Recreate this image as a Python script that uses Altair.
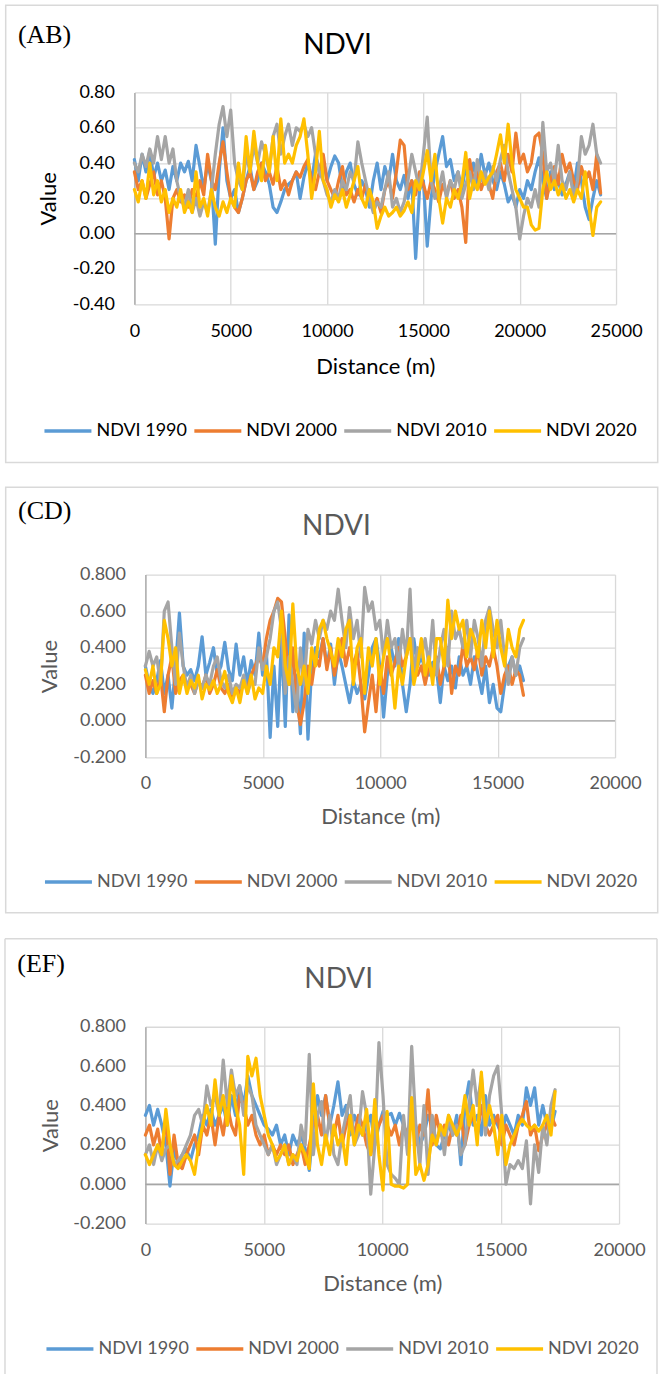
import altair as alt
import pandas as pd

SERIES = ["NDVI 1990", "NDVI 2000", "NDVI 2010", "NDVI 2020"]
COLORS = ["#5B9BD5", "#ED7D31", "#A5A5A5", "#FFC000"]

# ---------------- Panel (AB): sampled every 200 m ----------------
AB_STEP = 200
AB_1990 = [0.42, 0.30, 0.45, 0.35, 0.47, 0.32, 0.40, 0.30, 0.36, 0.25,
           0.38, 0.30, 0.40, 0.35, 0.41, 0.30, 0.50, 0.38, 0.25, 0.40,
           0.30, -0.06, 0.35, 0.60, 0.30, 0.20, 0.25, 0.12, 0.20, 0.30,
           0.38, 0.25, 0.30, 0.40, 0.35, 0.28, 0.15, 0.12, 0.18, 0.25,
           0.28, 0.30, 0.35, 0.20, 0.32, 0.40, 0.30, 0.45, 0.35, 0.42,
           0.30, 0.38, 0.44, 0.40, 0.25, 0.35, 0.40, 0.28, 0.22, 0.30,
           0.25, 0.15, 0.30, 0.40, 0.25, 0.38, 0.30, 0.45, 0.30, 0.25,
           0.33, 0.20, 0.30, -0.14, 0.25, 0.30, -0.07, 0.20, 0.35, 0.45,
           0.55, 0.38, 0.42, 0.30, 0.35, 0.25, 0.38, 0.30, 0.40, 0.28,
           0.45, 0.33, 0.40, 0.30, 0.25, 0.35, 0.28, 0.18, 0.22, 0.15,
           0.25, 0.20, 0.30, 0.25, 0.35, 0.43, 0.30, 0.20, 0.35, 0.25,
           0.30, 0.22, 0.28, 0.35, 0.25, 0.40, 0.30, 0.15, 0.08, 0.20,
           0.30, 0.22]
AB_2000 = [0.35, 0.25, 0.30, 0.20, 0.28, 0.35, 0.22, 0.30, 0.20, -0.03,
           0.20, 0.25, 0.18, 0.22, 0.15, 0.25, 0.20, 0.30, 0.22, 0.45,
           0.30, 0.25, 0.40, 0.52, 0.35, 0.20, 0.15, 0.12, 0.20, 0.30,
           0.35, 0.25, 0.35, 0.40, 0.30, 0.35, 0.28, 0.38, 0.25, 0.30,
           0.22, 0.30, 0.35, 0.32, 0.38, 0.42, 0.30, 0.25, 0.35, 0.45,
           0.30, 0.25, 0.20, 0.30, 0.38, 0.22, 0.25, 0.18, 0.25, 0.20,
           0.28, 0.20, 0.15, 0.20, 0.12, 0.25, 0.30, 0.20, 0.35, 0.53,
           0.50, 0.25, 0.30, 0.22, 0.35, 0.28, 0.20, 0.30, 0.25, 0.18,
           0.28, 0.22, 0.30, 0.20, 0.25, 0.15, -0.05, 0.42, 0.30, 0.35,
           0.25, 0.32, 0.28, 0.20, 0.35, 0.40, 0.30, 0.45, 0.35, 0.57,
           0.40, 0.45, 0.35, 0.40, 0.55, 0.57, 0.45, 0.20, 0.30, 0.38,
           0.28, 0.45, 0.35, 0.40, 0.30, 0.25, 0.38, 0.30, 0.35, 0.25,
           0.45, 0.23]
AB_2010 = [0.40, 0.35, 0.45, 0.38, 0.48, 0.40, 0.55, 0.42, 0.55, 0.40,
           0.48, 0.30, 0.20, 0.15, 0.25, 0.12, 0.20, 0.10, 0.18, 0.12,
           0.25, 0.45, 0.62, 0.72, 0.55, 0.70, 0.40, 0.30, 0.25, 0.45,
           0.35, 0.50, 0.40, 0.52, 0.45, 0.35, 0.55, 0.62, 0.45, 0.55,
           0.62, 0.50, 0.60, 0.58, 0.62, 0.55, 0.60, 0.45, 0.35, 0.30,
           0.22, 0.18, 0.25, 0.20, 0.30, 0.25, 0.35, 0.30, 0.52, 0.40,
           0.30, 0.20, 0.12, 0.18, 0.15, 0.25, 0.35, 0.15, 0.20, 0.12,
           0.18, 0.30, 0.45, 0.35, 0.25, 0.45, 0.66, 0.30, 0.20, 0.25,
           0.35, 0.20, 0.30, 0.25, 0.35, 0.20, 0.28, 0.35, 0.25, 0.42,
           0.30, 0.35, 0.25, 0.38, 0.30, 0.42, 0.50, 0.35, 0.25, 0.15,
           -0.03, 0.10, 0.20, 0.15, 0.25, 0.15, 0.63, 0.35, 0.40, 0.30,
           0.50, 0.30, 0.25, 0.35, 0.20, 0.30, 0.55, 0.45, 0.50, 0.62,
           0.45, 0.40]
AB_2020 = [0.25, 0.18, 0.30, 0.20, 0.40, 0.22, 0.30, 0.18, 0.25, 0.12,
           0.20, 0.15, 0.25, 0.12, 0.18, 0.12, 0.35, 0.15, 0.20, 0.10,
           0.25, 0.15, 0.10, 0.18, 0.12, 0.20, 0.15, 0.40, 0.25, 0.55,
           0.35, 0.58, 0.40, 0.30, 0.50, 0.35, 0.55, 0.30, 0.65, 0.40,
           0.45, 0.40, 0.50, 0.55, 0.65, 0.45, 0.20, 0.35, 0.58, 0.30,
           0.25, 0.15, 0.22, 0.18, 0.25, 0.15, 0.22, 0.30, 0.38, 0.20,
           0.15, 0.25, 0.18, 0.03, 0.10, 0.15, 0.10, 0.12, 0.15, 0.10,
           0.13, 0.18, 0.12, 0.30, 0.25, 0.35, 0.47, 0.30, 0.45, 0.20,
           0.06, 0.20, 0.15, 0.25, 0.20, 0.28, 0.46, 0.20, 0.30, 0.25,
           0.35, 0.28, 0.32, 0.35, 0.45, 0.56, 0.40, 0.62, 0.40, 0.25,
           0.20, 0.15, 0.15, 0.05, 0.02, 0.03, 0.25, 0.35, 0.25, 0.30,
           0.22, 0.28, 0.20, 0.25, 0.18, 0.25, 0.20, 0.35, 0.15, -0.01,
           0.15, 0.18]

# ---------------- Panel (CD): sampled every 161 m ----------------
CD_STEP = 161
CD_1990 = [0.30, 0.20, 0.15, 0.22, 0.33, 0.15, 0.25, 0.07, 0.30, 0.59,
           0.30, 0.25, 0.28, 0.22, 0.30, 0.46, 0.25, 0.32, 0.40, 0.25,
           0.30, 0.43, 0.28, 0.22, 0.42, 0.25, 0.35, 0.20, 0.33, 0.25,
           0.48, 0.25, 0.38, -0.09, 0.30, -0.03, 0.45, -0.03, 0.58, 0.05,
           0.25, -0.07, 0.48, -0.10, 0.30, 0.40, 0.35, 0.45, 0.30, 0.42,
           0.20, 0.38, 0.30, 0.20, 0.10, 0.22, 0.15, 0.20, 0.12, 0.25,
           0.40, 0.45, 0.30, 0.02, 0.25, 0.40, 0.30, 0.45, 0.20, 0.05,
           0.20, 0.45, 0.30, 0.35, 0.28, 0.25, 0.32, 0.28, 0.10, 0.30,
           0.22, 0.30, 0.18, 0.35, 0.25, 0.30, 0.20, 0.35, 0.25, 0.15,
           0.30, 0.10, 0.20, 0.07, 0.05, 0.20, 0.30, 0.35, 0.25, 0.30,
           0.22]
CD_2000 = [0.25, 0.15, 0.22, 0.15, 0.25, 0.05, 0.25, 0.35, 0.15, 0.22,
           0.25, 0.18, 0.20, 0.15, 0.22, 0.18, 0.25, 0.15, 0.20, 0.28,
           0.18, 0.15, 0.20, 0.12, 0.18, 0.15, 0.22, 0.18, 0.25, 0.30,
           0.35, 0.30, 0.45, 0.55, 0.60, 0.67, 0.65, 0.45, 0.20, 0.40,
           0.10, -0.02, 0.10, 0.30, 0.20, 0.35, 0.30, 0.45, 0.28, 0.40,
           0.25, 0.35, 0.45, 0.30, 0.40, 0.30, 0.38, 0.20, -0.06, 0.10,
           0.25, 0.05, 0.30, 0.15, 0.35, 0.25, 0.32, 0.40, 0.30, 0.35,
           0.45, 0.30, 0.25, 0.30, 0.20, 0.30, 0.25, 0.35, 0.20, 0.30,
           0.40, 0.15, 0.30, 0.25, 0.42, 0.30, 0.35, 0.28, 0.40, 0.25,
           0.35, 0.30, 0.40, 0.30, 0.15, 0.25, 0.30, 0.20, 0.28, 0.25,
           0.14]
CD_2010 = [0.30, 0.38, 0.30, 0.35, 0.20, 0.60, 0.65, 0.40, 0.20, 0.48,
           0.30, 0.18, 0.25, 0.15, 0.22, 0.18, 0.25, 0.20, 0.30, 0.35,
           0.22, 0.18, 0.25, 0.15, 0.20, 0.18, 0.25, 0.15, 0.22, 0.20,
           0.40, 0.28, 0.35, 0.45, 0.60, 0.65, 0.50, 0.15, 0.35, 0.20,
           0.05, 0.40, 0.20, 0.50, 0.42, 0.55, 0.45, 0.55, 0.50, 0.60,
           0.55, 0.72, 0.55, 0.40, 0.62, 0.45, 0.55, 0.35, 0.73, 0.60,
           0.65, 0.50, 0.55, 0.35, 0.55, 0.40, 0.45, 0.30, 0.50, 0.35,
           0.72, 0.25, 0.40, 0.35, 0.45, 0.30, 0.55, 0.25, 0.40, 0.50,
           0.30, 0.60, 0.45, 0.50, 0.40, 0.55, 0.35, 0.55, 0.45, 0.30,
           0.55, 0.62, 0.50, 0.40, 0.55, 0.35, 0.20, 0.35, 0.25, 0.40,
           0.45]
CD_2020 = [0.28, 0.20, 0.30, 0.15, 0.20, 0.55, 0.45, 0.30, 0.40, 0.15,
           0.25, 0.15, 0.22, 0.18, 0.25, 0.12, 0.20, 0.17, 0.22, 0.15,
           0.20, 0.27, 0.15, 0.10, 0.18, 0.10, 0.22, 0.15, 0.25, 0.12,
           0.18, 0.15, 0.30, 0.20, 0.40, 0.35, 0.60, 0.30, 0.20, 0.64,
           0.30, 0.20, 0.30, 0.15, 0.40, 0.30, 0.50, 0.55, 0.45, 0.38,
           0.30, 0.45, 0.35, 0.50, 0.55, 0.20, 0.40, 0.45, 0.15, 0.40,
           0.30, 0.45, 0.20, 0.35, 0.45, 0.30, 0.07, 0.30, 0.20, 0.35,
           0.45, 0.20, 0.30, 0.45, 0.25, 0.35, 0.20, 0.45, 0.45, 0.30,
           0.66, 0.45, 0.60, 0.50, 0.55, 0.35, 0.50, 0.45, 0.35, 0.55,
           0.40, 0.60, 0.35, 0.55, 0.40, 0.30, 0.50, 0.40, 0.35, 0.50,
           0.55]

# ---------------- Panel (EF): sampled every 173 m ----------------
EF_STEP = 173
EF_1990 = [0.35, 0.40, 0.30, 0.38, 0.30, 0.20, -0.01, 0.18, 0.10, 0.15,
           0.18, 0.12, 0.20, 0.25, 0.35, 0.30, 0.38, 0.30, 0.35, 0.40,
           0.30, 0.45, 0.35, 0.50, 0.40, 0.55, 0.45, 0.40, 0.35, 0.30,
           0.28, 0.25, 0.30, 0.20, 0.25, 0.15, 0.25, 0.20, 0.25, 0.18,
           0.07, 0.30, 0.45, 0.35, 0.45, 0.30, 0.40, 0.52, 0.35, 0.40,
           0.25, 0.35, 0.30, 0.25, 0.30, 0.35, 0.20, 0.30, 0.37, 0.35,
           0.36, 0.30, 0.36, 0.30, 0.25, 0.35, 0.30, 0.20, 0.25, 0.35,
           0.30, 0.20, 0.18, 0.25, 0.30, 0.25, 0.35, 0.10, 0.40, 0.52,
           0.30, 0.35, 0.25, 0.45, 0.30, 0.35, 0.30, 0.25, 0.35, 0.30,
           0.25, 0.35, 0.30, 0.49, 0.40, 0.49, 0.30, 0.40, 0.30, 0.28,
           0.37]
EF_2000 = [0.25, 0.30, 0.20, 0.28, 0.15, 0.35, 0.05, 0.25, 0.10, 0.08,
           0.15, 0.20, 0.25, 0.15, 0.30, 0.25, 0.35, 0.20, 0.35, 0.25,
           0.40, 0.30, 0.25, 0.45, 0.40, 0.30, 0.35, 0.25, 0.20, 0.25,
           0.15, 0.20, 0.15, 0.20, 0.15, 0.20, 0.10, 0.15, 0.20, 0.10,
           0.20, 0.30, 0.35, 0.25, 0.45, 0.30, 0.25, 0.35, 0.20, 0.30,
           0.35, 0.25, 0.35, 0.30, 0.20, 0.15, 0.25, 0.30, 0.35, 0.30,
           0.25, 0.30, 0.20, 0.30, 0.25, 0.35, 0.20, 0.30, 0.25, 0.48,
           0.20, 0.35, 0.25, 0.30, 0.20, 0.30, 0.25, 0.35, 0.20, 0.30,
           0.35, 0.25, 0.40, 0.30, 0.25, 0.30, 0.35, 0.20, 0.30, 0.25,
           0.20, 0.30, 0.35, 0.42, 0.25, 0.30, 0.17, 0.25, 0.30, 0.35,
           0.30]
EF_2010 = [0.15, 0.20, 0.10, 0.20, 0.12, 0.18, 0.20, 0.10, 0.12, 0.15,
           0.20, 0.25, 0.35, 0.38, 0.30, 0.50, 0.40, 0.45, 0.35, 0.63,
           0.40, 0.58, 0.45, 0.50, 0.35, 0.50, 0.45, 0.30, 0.25, 0.20,
           0.15, 0.20, 0.10, 0.15, 0.20, 0.10, 0.15, 0.10, 0.30, 0.20,
           0.66, 0.15, 0.35, 0.42, 0.20, 0.35, 0.15, 0.10, 0.25, 0.35,
           0.45, 0.20, 0.25, 0.47, 0.35, -0.05, 0.20, 0.72, 0.45, 0.10,
           0.05, 0.03, 0.00, 0.35, 0.15, 0.70, 0.30, 0.10, 0.40, 0.05,
           0.35, 0.20, 0.30, 0.15, 0.35, 0.25, 0.30, 0.15, 0.20, 0.40,
           0.58, 0.40, 0.55, 0.25, 0.45, 0.55, 0.60, 0.35, 0.00, 0.10,
           0.08, 0.12, 0.08, 0.22, -0.10, 0.20, 0.06, 0.30, 0.20, 0.40,
           0.48]
EF_2020 = [0.15, 0.10, 0.15, 0.20, 0.15, 0.38, 0.20, 0.10, 0.08, 0.12,
           0.15, 0.12, 0.05, 0.20, 0.30, 0.40, 0.30, 0.53, 0.35, 0.45,
           0.30, 0.55, 0.40, 0.30, 0.05, 0.65, 0.55, 0.64, 0.45, 0.35,
           0.25, 0.20, 0.12, 0.15, 0.20, 0.10, 0.15, 0.12, 0.20, 0.15,
           0.08, 0.51, 0.20, 0.10, 0.25, 0.15, 0.30, 0.20, 0.25, 0.10,
           0.35, 0.20, 0.30, 0.25, 0.38, 0.15, 0.43, 0.15, -0.03, 0.37,
           0.00, -0.01, -0.01, -0.02, 0.00, 0.44, 0.05, 0.10, 0.02, 0.10,
           0.25, 0.20, 0.30, 0.25, 0.35, 0.30, 0.25, 0.30, 0.45, 0.30,
           0.40, 0.20, 0.57, 0.30, 0.40, 0.30, 0.15, 0.35, 0.10, 0.20,
           0.25, 0.30, 0.33, 0.30, 0.28, 0.30, 0.27, 0.30, 0.35, 0.25,
           0.47]

AB_XTICKS = [0, 5000, 10000, 15000, 20000, 25000]
CD_XTICKS = [0, 5000, 10000, 15000, 20000]
AB_YTICKS = [-0.4, -0.2, 0.0, 0.2, 0.4, 0.6, 0.8]
CD_YTICKS = [-0.2, 0.0, 0.2, 0.4, 0.6, 0.8]


def long_df(step, arrays):
    rows = []
    for name, vals in zip(SERIES, arrays):
        for i, v in enumerate(vals):
            rows.append({"dist": i * step, "value": v, "series": name})
    return pd.DataFrame(rows)


FONT = "Lato"
FRAME_COLOR = "#D9D9D9"


def box(frame, open_bottom=False):
    one = pd.DataFrame({"k": [0]})
    x1, x2, y1, y2 = frame
    if not open_bottom:
        return [alt.Chart(one).mark_rect(
            fill="white", fillOpacity=0, stroke=FRAME_COLOR, strokeWidth=1.5
        ).encode(x=alt.value(x1), x2=alt.value(x2), y=alt.value(y1), y2=alt.value(y2))]
    base = alt.Chart(one)
    return [
        base.mark_rule(color=FRAME_COLOR, strokeWidth=1.5).encode(
            x=alt.value(x1), y=alt.value(y1), y2=alt.value(y2)),
        base.mark_rule(color=FRAME_COLOR, strokeWidth=1.5).encode(
            x=alt.value(x2), y=alt.value(y1), y2=alt.value(y2)),
        base.mark_rule(color=FRAME_COLOR, strokeWidth=1.5).encode(
            x=alt.value(x1), x2=alt.value(x2), y=alt.value(y1)),
        # invisible spacer that sets the gap above this panel's frame
        base.mark_rule(color="white", strokeOpacity=0, strokeWidth=1).encode(
            x=alt.value(x1), x2=alt.value(x1 + 10), y=alt.value(y1 - 3)),
    ]


def panel(df, tag, xticks, yticks, yfmt, w, xr, h, tcolor, frame, tagpos, titlepos,
          legpos, xlabpad, xtitlepad, ytitlepad, open_bottom=False):
    tag_l = alt.Chart(pd.DataFrame({"t": [tag]})).mark_text(
        font="Liberation Serif", fontSize=26, align="left", baseline="alphabetic",
        color="#000000"
    ).encode(x=alt.value(tagpos[0]), y=alt.value(tagpos[1]), text="t:N")
    title_l = alt.Chart(pd.DataFrame({"t": ["NDVI"]})).mark_text(
        font=FONT, fontSize=28, align="center", baseline="alphabetic", color=tcolor
    ).encode(x=alt.value(titlepos[0]), y=alt.value(titlepos[1]), text="t:N")

    label_expr = "(datum.value < 0 ? '-' : '') + format(abs(datum.value), '%s')" % yfmt
    yscale = alt.Scale(domain=[yticks[0], yticks[-1]], nice=False, zero=False)
    yaxis = alt.Axis(values=yticks, labelExpr=label_expr, title="Value",
                     labelFont=FONT, labelFontSize=18, labelColor=tcolor,
                     titleFont=FONT, titleFontSize=22, titleFontWeight="normal",
                     titleColor=tcolor, ticks=False, tickSize=0,
                     labelPadding=20, titlePadding=ytitlepad,
                     labelOverlap=False, labelFlush=False, offset=-xr[0],
                     domain=True, domainColor="#A6A6A6", domainWidth=1.3,
                     grid=True, gridColor="#D9D9D9", gridWidth=1.3)
    xscale = alt.Scale(domain=[xticks[0], xticks[-1]], nice=False, zero=False,
                       range=list(xr))
    xaxis = alt.Axis(values=xticks, format="d", title="Distance (m)",
                     labelFont=FONT, labelFontSize=18, labelColor=tcolor,
                     titleFont=FONT, titleFontSize=22, titleFontWeight="normal",
                     titleColor=tcolor, ticks=False, tickSize=0,
                     labelPadding=xlabpad, titlePadding=xtitlepad,
                     domain=False, grid=True, gridColor="#D9D9D9",
                     gridWidth=1.3, labelFlush=False, labelOverlap=False)

    zero_l = alt.Chart(pd.DataFrame({"z": [0.0]})).mark_rule(
        color="#A6A6A6", strokeWidth=1.5
    ).encode(y=alt.Y("z:Q", scale=yscale, axis=yaxis),
             x=alt.value(xr[0]), x2=alt.value(xr[1]))
    lines = alt.Chart(df).mark_line(
        strokeWidth=3.2, strokeJoin="round", strokeCap="round"
    ).encode(
        x=alt.X("dist:Q", scale=xscale, axis=xaxis),
        y=alt.Y("value:Q", scale=yscale, axis=yaxis),
        color=alt.Color("series:N",
                        scale=alt.Scale(domain=SERIES, range=COLORS),
                        legend=alt.Legend(orient="none", legendX=legpos[0],
                                          legendY=legpos[1], direction="horizontal",
                                          title=None, symbolType="stroke",
                                          symbolSize=2209, symbolStrokeWidth=3.5,
                                          labelFont=FONT, labelFontSize=18,
                                          labelColor=tcolor, columnPadding=0,
                                          labelOffset=3, labelLimit=0, padding=0)),
    )
    layers = box(frame, open_bottom) + [tag_l, title_l, zero_l, lines]
    return alt.layer(*layers).properties(width=w, height=h)


# Panel (AB): plot left edge sits 11 px left of the shared column origin
p1 = panel(long_df(AB_STEP, [AB_1990, AB_2000, AB_2010, AB_2020]), "(AB)",
           AB_XTICKS, AB_YTICKS, ".2f", 471, (-11, 471), 212, "#000000",
           (-139.8, 512.7, -87.2, 370.3), (-127.6, -49), (192.3, -38.7),
           (-103, 313), 18, 16.5, 11.5)
p2 = panel(long_df(CD_STEP, [CD_1990, CD_2000, CD_2010, CD_2020]), "(CD)",
           CD_XTICKS, CD_YTICKS, ".3f", 470, (0, 470), 183, "#595959",
           (-139.8, 512.7, -87.5, 338.5), (-127.5, -55.8), (191.2, -39.5),
           (-102.5, 281.8), 17, 14, 11.6)
p3 = panel(long_df(EF_STEP, [EF_1990, EF_2000, EF_2010, EF_2020]), "(EF)",
           CD_XTICKS, CD_YTICKS, ".3f", 474, (0, 474), 197, "#595959",
           (-140.5, 512, -88, 348.5), (-128.2, -55), (193.5, -38.3),
           (-101, 296.7), 18, 14, 10, open_bottom=True)

chart = alt.vconcat(p1, p2, p3, spacing=21.5).resolve_scale(
    color="independent", x="independent", y="independent"
).resolve_legend(color="independent").configure_view(stroke=None).properties(
    background="white", padding={"left": 3.5, "top": 4, "right": 1, "bottom": 0})

chart.save("out.html", embed_options={"renderer": "svg", "actions": False})
